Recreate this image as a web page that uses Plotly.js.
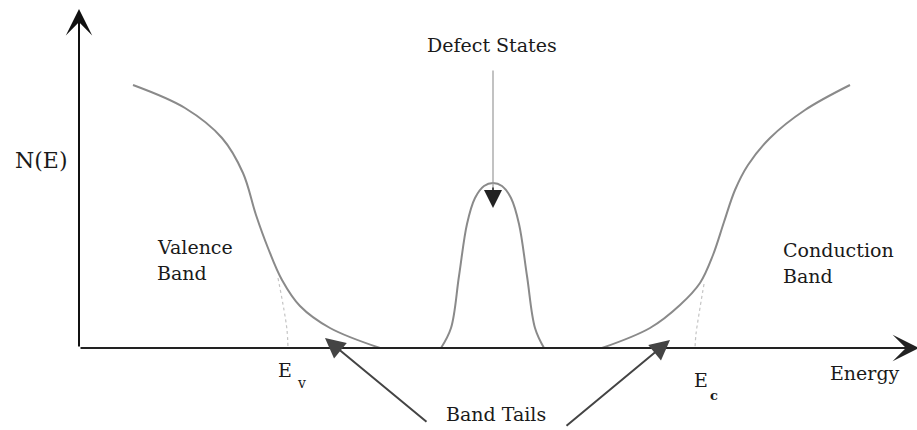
<!DOCTYPE html>
<html>
<head>
<meta charset="utf-8">
<script src="https://cdn.plot.ly/plotly-3.0.1.min.js"></script>
<style>
  html, body { margin: 0; padding: 0; background: #fff; }
  #chart { width: 917px; height: 430px; }
</style>
</head>
<body>
<div id="chart"></div>
<script>
// Density of states N(E) across the gap (arbitrary units)
const valenceE = [0.54, 1.06, 1.43, 1.64, 1.77, 1.89, 2.03, 2.21, 2.51, 3.01];
const valenceN = [2.63, 2.40, 2.10, 1.75, 1.33, 1.00, 0.68, 0.42, 0.20, 0.00];

// Ideal valence band edge without tail (ends at Ev)
const valenceEdgeE = [1.99, 2.05, 2.08, 2.09];
const valenceEdgeN = [0.70, 0.38, 0.18, 0.00];

// Mid-gap defect states
const defectE = [3.62, 3.72, 3.80, 3.88, 3.96, 4.05, 4.14, 4.23, 4.32, 4.40, 4.48, 4.56, 4.65];
const defectN = [0.00, 0.20, 0.72, 1.24, 1.50, 1.62, 1.65, 1.62, 1.50, 1.24, 0.72, 0.20, 0.00];

const conductionE = [5.23, 5.71, 6.01, 6.21, 6.34, 6.45, 6.56, 6.69, 6.91, 7.26, 7.71];
const conductionN = [0.00, 0.20, 0.43, 0.65, 0.93, 1.26, 1.58, 1.83, 2.10, 2.38, 2.63];

// Ideal conduction band edge without tail (ends at Ec)
const conductionEdgeE = [6.25, 6.20, 6.17, 6.16];
const conductionEdgeN = [0.64, 0.34, 0.14, 0.00];

// Labels
const yLabel = 'N(E)';
const xLabel = 'Energy';
const defectLabel = 'Defect States';
const tailLabel = 'Band Tails';
const valenceLabel = ['Valence', 'Band'];
const conductionLabel = ['Conduction', 'Band'];

const curveStyle = { color: '#8a8a8a', width: 2, shape: 'spline', smoothing: 1 };
const edgeStyle = { color: '#c4c4c4', width: 1.2, dash: 'dot', shape: 'spline', smoothing: 1 };

const traces = [
  { x: valenceE, y: valenceN, mode: 'lines', line: curveStyle, hoverinfo: 'skip' },
  { x: valenceEdgeE, y: valenceEdgeN, mode: 'lines', line: edgeStyle, hoverinfo: 'skip' },
  { x: defectE, y: defectN, mode: 'lines', line: curveStyle, hoverinfo: 'skip' },
  { x: conductionE, y: conductionN, mode: 'lines', line: curveStyle, hoverinfo: 'skip' },
  { x: conductionEdgeE, y: conductionEdgeN, mode: 'lines', line: edgeStyle, hoverinfo: 'skip' }
];

const serif = 'DejaVu Serif';
const txt = (text, x, y, size, xanchor) => ({
  text: text, x: x, y: y, xref: 'x', yref: 'y', showarrow: false,
  xanchor: xanchor || 'center', yanchor: 'middle',
  font: { family: serif, size: size, color: '#1a1a1a' }
});
const arrow = (tipX, tipY, tailX, tailY, opts) => Object.assign({
  x: tipX, y: tipY, ax: tailX, ay: tailY, xref: 'x', yref: 'y', axref: 'x', ayref: 'y',
  text: '', showarrow: true, standoff: 0, startstandoff: 0
}, opts);

const eV = valenceEdgeE[valenceEdgeE.length - 1];
const eC = conductionEdgeE[conductionEdgeE.length - 1];
const peakE = defectE[defectN.indexOf(Math.max(...defectN))];

const annotations = [
  // axes
  arrow(0, 3.39, 0, 0, { arrowhead: 3, arrowsize: 2.2, arrowwidth: 2, arrowcolor: '#111' }),
  arrow(8.40, 0, 0, 0, { arrowhead: 3, arrowsize: 2.2, arrowwidth: 2, arrowcolor: '#222' }),
  // pointer to the defect peak
  arrow(peakE, 1.55, peakE, 2.79, { arrowhead: 0, arrowwidth: 1.2, arrowcolor: '#9a9a9a' }),
  arrow(peakE, 1.40, peakE, 1.62, { arrowhead: 2, arrowsize: 2.4, arrowwidth: 1.5, arrowcolor: '#222' }),
  // pointers to the band tails
  arrow(2.46, 0.10, 3.49, -0.75, { arrowhead: 2, arrowsize: 2.0, arrowwidth: 2, arrowcolor: '#444' }),
  arrow(5.91, 0.08, 4.86, -0.79, { arrowhead: 2, arrowsize: 2.0, arrowwidth: 2, arrowcolor: '#444' }),
  // text
  txt(yLabel, -0.38, 1.88, 22),
  txt(defectLabel, peakE - 0.01, 3.03, 19),
  txt(valenceLabel[0], 0.76, 1.01, 19, 'left'),
  txt(valenceLabel[1], 0.76, 0.75, 19, 'left'),
  txt(conductionLabel[0], 7.02, 0.98, 19, 'left'),
  txt(conductionLabel[1], 7.02, 0.72, 19, 'left'),
  txt('E', eV - 0.03, -0.22, 19),
  txt('v', eV + 0.13, -0.35, 14),
  txt('E', eC + 0.06, -0.32, 19),
  txt('<b>c</b>', eC + 0.19, -0.47, 13),
  txt(xLabel, 7.86, -0.25, 19),
  txt(tailLabel, 4.17, -0.66, 19)
];

const layout = {
  width: 917, height: 430,
  font: { family: serif, color: '#1a1a1a' },
  margin: { l: 0, r: 0, t: 0, b: 0, pad: 0 },
  paper_bgcolor: '#ffffff', plot_bgcolor: '#ffffff',
  showlegend: false,
  xaxis: { range: [-0.79, 8.38], visible: false, fixedrange: true },
  yaxis: { range: [-0.82, 3.48], visible: false, fixedrange: true },
  annotations: annotations
};

Plotly.newPlot('chart', traces, layout, { staticPlot: true, displayModeBar: false });
</script>
</body>
</html>
